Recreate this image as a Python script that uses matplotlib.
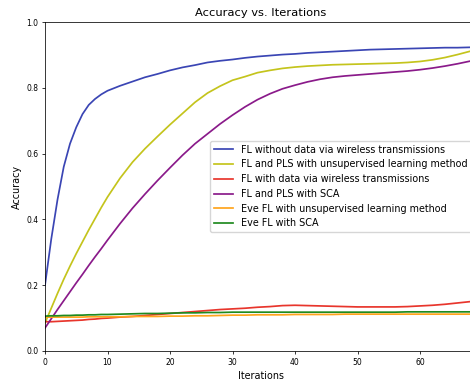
import matplotlib
matplotlib.use("Agg")
import matplotlib.pyplot as plt

iterations = [0, 1, 2, 3, 4, 5, 6, 7, 8, 9, 10, 12, 14, 16, 18, 20, 22, 24, 26, 28, 30,
              32, 34, 36, 38, 40, 42, 44, 46, 48, 50, 52, 54, 56, 58, 60, 62, 64, 66, 68, 69]

fl_without_data = [0.20, 0.34, 0.46, 0.56, 0.63, 0.68, 0.72, 0.748, 0.766, 0.78, 0.791, 0.806,
                   0.819, 0.832, 0.842, 0.853, 0.862, 0.869, 0.877, 0.882, 0.886, 0.891, 0.895,
                   0.898, 0.901, 0.903, 0.906, 0.908, 0.910, 0.912, 0.914, 0.916, 0.917, 0.918,
                   0.919, 0.920, 0.921, 0.922, 0.922, 0.923, 0.923]

fl_pls_unsup = [0.085, 0.13, 0.175, 0.218, 0.258, 0.296, 0.332, 0.368, 0.402, 0.436, 0.468,
                0.525, 0.574, 0.615, 0.652, 0.688, 0.722, 0.756, 0.784, 0.805, 0.823, 0.834,
                0.846, 0.853, 0.859, 0.863, 0.866, 0.868, 0.870, 0.871, 0.872, 0.873, 0.874,
                0.875, 0.877, 0.880, 0.885, 0.892, 0.901, 0.911, 0.916]

fl_with_data = [0.089, 0.089, 0.090, 0.091, 0.092, 0.093, 0.094, 0.096, 0.097, 0.099, 0.100,
                0.103, 0.105, 0.108, 0.111, 0.114, 0.117, 0.120, 0.123, 0.126, 0.128, 0.130,
                0.133, 0.135, 0.138, 0.139, 0.138, 0.137, 0.136, 0.135, 0.134, 0.134, 0.134,
                0.134, 0.135, 0.137, 0.139, 0.142, 0.146, 0.150, 0.153]

fl_pls_sca = [0.07, 0.098, 0.126, 0.153, 0.18, 0.207, 0.233, 0.26, 0.286, 0.311, 0.337,
              0.387, 0.434, 0.477, 0.518, 0.557, 0.595, 0.63, 0.66, 0.69, 0.717, 0.742,
              0.764, 0.782, 0.797, 0.808, 0.818, 0.826, 0.832, 0.836, 0.839, 0.842, 0.845,
              0.848, 0.851, 0.855, 0.860, 0.866, 0.873, 0.881, 0.885]

eve_unsup = [0.103, 0.103, 0.103, 0.103, 0.103, 0.103, 0.103, 0.104, 0.104, 0.104, 0.104,
             0.104, 0.105, 0.105, 0.105, 0.106, 0.106, 0.107, 0.107, 0.108, 0.109, 0.109,
             0.110, 0.110, 0.110, 0.111, 0.111, 0.111, 0.111, 0.112, 0.112, 0.112, 0.112,
             0.112, 0.112, 0.112, 0.112, 0.112, 0.112, 0.112, 0.112]

eve_sca = [0.106, 0.107, 0.107, 0.108, 0.108, 0.109, 0.109, 0.110, 0.110, 0.111, 0.111,
           0.112, 0.113, 0.114, 0.114, 0.115, 0.116, 0.116, 0.117, 0.117, 0.118, 0.118,
           0.118, 0.118, 0.118, 0.118, 0.118, 0.118, 0.118, 0.118, 0.118, 0.118, 0.118,
           0.118, 0.119, 0.119, 0.119, 0.119, 0.119, 0.119, 0.119]

labels = ["FL without data via wireless transmissions",
          "FL and PLS with unsupervised learning method",
          "FL with data via wireless transmissions",
          "FL and PLS with SCA",
          "Eve FL with unsupervised learning method",
          "Eve FL with SCA"]
colors = ["#3a45b4", "#c4c41c", "#e8352c", "#8a1a8a", "#ffa41c", "#1f8a1f"]
series = [fl_without_data, fl_pls_unsup, fl_with_data, fl_pls_sca, eve_unsup, eve_sca]

s = 0.69
fig = plt.figure(figsize=(4.70, 3.83), dpi=100)
ax = fig.add_axes([45 / 470, 32 / 383, 431.25 / 470, 329 / 383])
for ys, lab, col in zip(series, labels, colors):
    ax.plot(iterations, ys, color=col, label=lab, linewidth=1.5 * s * 1.2)

ax.set_xlim(0, 69)
ax.set_ylim(0, 1.0)
ax.set_xticks([0, 10, 20, 30, 40, 50, 60])
ax.set_yticks([0.0, 0.2, 0.4, 0.6, 0.8, 1.0])
ax.tick_params(labelsize=8 * s, length=3.5 * s, width=0.8 * s, pad=3.5 * s)
for sp in ax.spines.values():
    sp.set_linewidth(0.8 * s)
ax.set_title("Accuracy vs. Iterations", fontsize=12 * s, pad=6 * s)
ax.set_xlabel("Iterations", fontsize=10 * s, labelpad=4 * s)
ax.set_ylabel("Accuracy", fontsize=10 * s, labelpad=4 * s)
ax.legend(loc="center right", fontsize=10 * s, frameon=True)

fig.savefig("out.png", dpi=100)
